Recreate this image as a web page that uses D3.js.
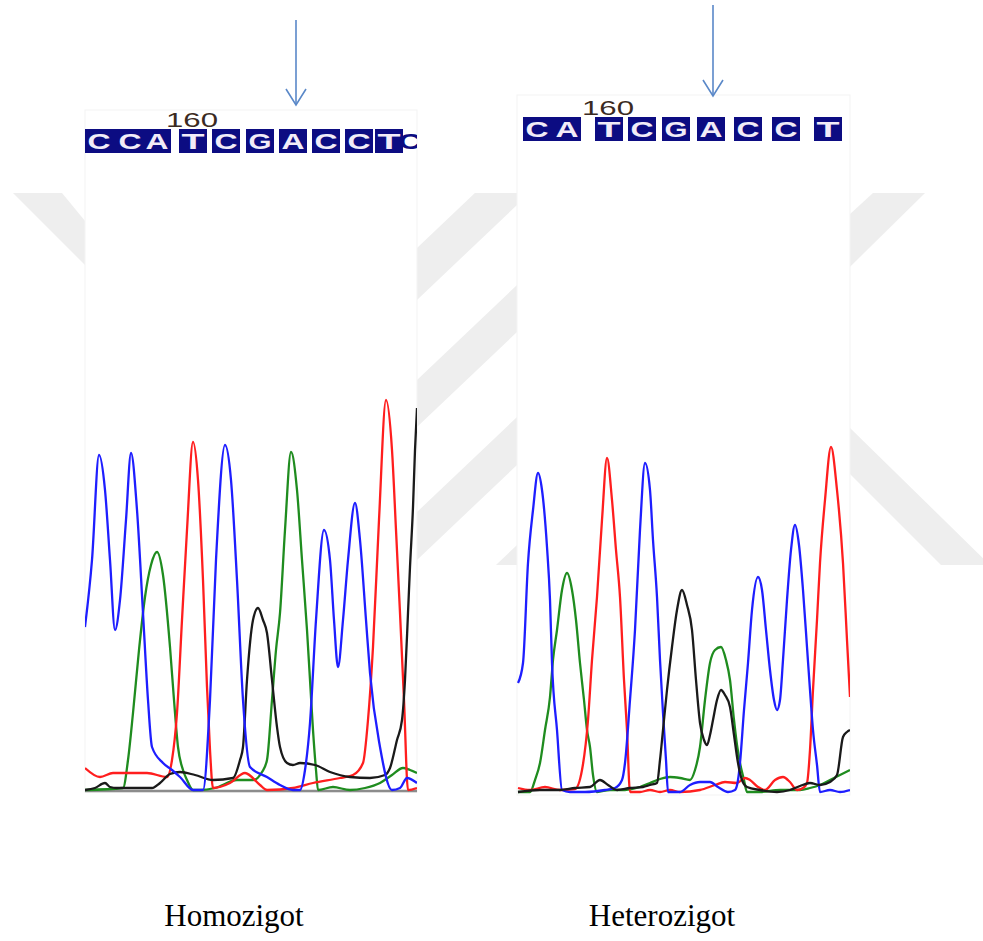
<!DOCTYPE html>
<html>
<meta charset="utf-8">
<head>
<script src="https://d3js.org/d3.v7.min.js"></script>
<style>
  body { margin: 0; background: #fff; }
</style>
</head>
<body>
<div id="chart"></div>
<script>

// ---- data: trace points as [scan position, signal intensity] ----
var homoBlue = [[0,163],[7,230],[14,335],[20,300],[25,230],[30,160],[35,190],[41,270],[46,337],[52,280],[58,177],[63,90],[67,43],[78,27],[87,20],[95,13],[108,0],[118,0],[125,90],[131,230],[140,345],[146,310],[152,210],[158,90],[165,23],[182,13],[195,5],[208,0],[215,0],[220,20],[225,67],[231,170],[239,260],[245,230],[249,170],[253,123],[258,170],[263,230],[270,287],[275,250],[281,170],[285,117],[295,43],[307,0],[315,2],[322,12],[332,7]];
var homoRed = [[0,22],[15,13],[28,17],[62,17],[82,13],[87,30],[92,77],[97,170],[102,260],[108,348],[113,310],[118,210],[122,103],[125,40],[128,2],[145,7],[160,17],[175,5],[182,0],[208,2],[228,7],[255,12],[268,15],[278,27],[283,70],[288,143],[294,270],[301,390],[307,340],[311,260],[315,177],[319,90],[323,0],[332,2]];
var homoGreen = [[0,0],[38,2],[43,30],[48,77],[54,140],[60,193],[66,225],[72,238],[78,215],[85,143],[89,90],[93,43],[98,20],[102,10],[108,0],[115,0],[130,2],[152,10],[168,10],[177,18],[182,30],[187,90],[191,140],[195,177],[200,260],[206,338],[212,300],[217,230],[222,160],[225,110],[228,60],[231,20],[233,0],[248,3],[265,0],[280,2],[295,7],[307,15],[318,22],[325,20],[332,17]];
var homoBlack = [[0,0],[10,2],[20,7],[25,3],[32,2],[67,2],[75,7],[85,16],[95,18],[110,15],[128,10],[148,12],[155,30],[158,43],[162,110],[168,170],[173,182],[178,170],[182,157],[187,110],[192,63],[195,43],[202,27],[208,25],[215,27],[230,25],[245,18],[265,13],[285,12],[300,15],[305,22],[312,50],[317,70],[320,110],[323,177],[325,223],[328,283],[330,340],[332,382]];

var hetBlue = [[1,109],[6,129],[11,229],[16,282],[21,319],[25,302],[30,245],[33,192],[35,129],[40,62],[45,2],[53,0],[68,0],[88,2],[98,4],[105,12],[108,29],[113,92],[118,162],[123,262],[128,329],[133,302],[136,252],[140,195],[143,132],[146,79],[149,32],[151,0],[163,0],[173,7],[183,10],[193,10],[201,5],[211,0],[218,2],[221,12],[223,29],[227,82],[231,129],[235,182],[241,215],[245,202],[249,162],[253,122],[257,92],[260,82],[263,92],[266,132],[270,192],[274,242],[278,267],[282,247],[286,202],[290,145],[293,102],[296,62],[300,27],[303,0],[313,2],[323,0],[333,2]];
var hetRed = [[1,4],[13,2],[28,5],[43,2],[58,3],[65,22],[71,72],[75,132],[80,195],[85,272],[90,334],[95,292],[99,242],[103,195],[107,112],[110,62],[113,0],[123,0],[133,2],[143,0],[153,2],[163,0],[183,2],[198,7],[208,10],[220,9],[228,14],[233,12],[241,5],[248,2],[258,12],[266,15],[273,10],[280,2],[286,4],[290,9],[293,42],[296,102],[300,172],[303,229],[308,292],[314,345],[320,302],[326,229],[330,152],[333,95]];
var hetGreen = [[1,0],[13,0],[18,12],[23,29],[28,62],[33,95],[36,132],[40,162],[45,202],[50,219],[55,202],[59,172],[63,129],[67,92],[70,62],[73,45],[76,17],[80,0],[93,2],[108,2],[123,5],[133,9],[143,13],[153,15],[163,14],[173,12],[178,22],[183,45],[188,92],[193,129],[198,142],[204,145],[209,132],[213,112],[217,72],[220,47],[223,29],[227,12],[230,0],[243,0],[263,2],[283,2],[293,4],[303,7],[313,12],[323,17],[333,22]];
var hetBlack = [[1,0],[23,2],[43,2],[58,4],[73,5],[83,12],[91,7],[100,2],[113,4],[126,5],[133,7],[140,9],[143,32],[146,62],[150,102],[155,145],[160,182],[165,202],[170,187],[175,162],[179,112],[183,69],[187,52],[190,47],[193,57],[196,72],[200,92],[204,102],[208,97],[213,85],[217,57],[221,29],[225,12],[230,5],[243,2],[260,0],[273,2],[283,6],[293,9],[303,7],[313,10],[320,17],[326,55],[330,60],[333,62]];

// base calls, their positions in the call strip and the box group of each letter (-1 = no box)
var homoBases = ["C","C","A","T","C","G","A","C","C","T","C"];
var homoBasePos = [14,45,72,108,141,175,208,241,274,304,325];
var homoBoxGroup = [0,0,0,1,2,3,4,5,6,7,-1];
var hetBases = ["C","A","T","C","G","A","C","C","T"];
var hetBasePos = [20,50,92,125,159,194,231,269,311];
var hetBoxGroup = [0,0,1,2,3,4,5,6,7];

var tickLabel = "160";
var homoTickIndex = 3;        // the T under "160"
var hetTickIndex = 2;
var homoSnpIndex = 6;         // base marked by the arrow
var hetSnpIndex = 5;
var panelTitles = ["Homozigot", "Heterozigot"];

var traceColors = {blue: "#1e1eff", red: "#ff1e1e", green: "#1f8c1f", black: "#1a1a1a"};

var svg = d3.select("#chart")
  .append("svg")
    .attr("width", 983)
    .attr("height", 941);

// faint watermark stripes behind the panels
var wm = svg.append("g").attr("fill", "#eeeeee");
var defs = svg.append("defs");
defs.append("clipPath").attr("id", "midclip")
  .append("rect").attr("x", 417).attr("y", 193).attr("width", 100).attr("height", 372);
defs.append("clipPath").attr("id", "wmclip")
  .append("rect").attr("x", 0).attr("y", 193).attr("width", 983).attr("height", 372);

var mid = wm.append("g").attr("clip-path", "url(#midclip)");
[[248,300],[380,427],[512,560],[640,695]].forEach(function(s) {
  var k = 0.95;
  mid.append("polygon").attr("points", [
    [417, s[0]], [517, s[0] - 100 * k], [517, s[1] - 100 * k], [417, s[1]]
  ].join(" "));
});
var outer = wm.append("g").attr("clip-path", "url(#wmclip)");
outer.append("polygon").attr("points", "13,193 62,193 150,300 150,330");
outer.append("polygon").attr("points", "873,193 925,193 800,316 800,260");
outer.append("polygon").attr("points", "800,379 990,565 941,565 800,424");

function drawPanel(cfg) {
  var g = svg.append("g");

  g.append("rect")
    .attr("x", cfg.left).attr("y", cfg.top)
    .attr("width", cfg.right - cfg.left).attr("height", cfg.bottom - cfg.top)
    .attr("fill", "#fff")
    .attr("stroke", "#f3f3f3");

  var x = d3.scaleLinear().domain([0, cfg.right - cfg.left]).range([cfg.left, cfg.right]);
  var y = d3.scaleLinear().domain([0, 400]).range([cfg.base, cfg.base - 400]);

  var clipId = "clip" + cfg.left;
  defs.append("clipPath").attr("id", clipId)
    .append("rect").attr("x", cfg.left).attr("y", cfg.top)
    .attr("width", cfg.right - cfg.left).attr("height", cfg.bottom - cfg.top + 2);

  if (cfg.baseline) {
    g.append("line")
      .attr("x1", cfg.left).attr("x2", cfg.right)
      .attr("y1", cfg.base + 1).attr("y2", cfg.base + 1)
      .attr("stroke", "#8c8c8c").attr("stroke-width", 2.5);
  }

  var line = d3.line()
    .x(function(d) { return x(d[0]); })
    .y(function(d) { return y(d[1]); })
    .curve(d3.curveMonotoneX);

  var tg = g.append("g").attr("clip-path", "url(#" + clipId + ")");
  cfg.traces.forEach(function(t) {
    tg.append("path")
      .attr("d", line(t.data))
      .attr("fill", "none")
      .attr("stroke", traceColors[t.color])
      .attr("stroke-width", 2.3)
      .attr("stroke-linejoin", "round");
  });

  // base call strip
  var sg = g.append("g").attr("clip-path", "url(#" + clipId + ")");
  var groups = d3.groups(cfg.bases.map(function(b, i) {
      return {b: b, p: cfg.basePos[i], grp: cfg.groups[i]};
    }).filter(function(d) { return d.grp >= 0; }), function(d) { return d.grp; });
  groups.forEach(function(gr) {
    var items = gr[1];
    var x0 = x(items[0].p) - 14, x1 = x(items[items.length - 1].p) + 14;
    sg.append("rect")
      .attr("x", x0).attr("y", cfg.stripY)
      .attr("width", x1 - x0).attr("height", 24)
      .attr("fill", "#0c0c82");
  });
  cfg.bases.forEach(function(b, i) {
    sg.append("text")
      .attr("x", x(cfg.basePos[i]))
      .attr("y", cfg.stripY + 20)
      .attr("text-anchor", "middle")
      .attr("font-family", "Liberation Sans, Arial, sans-serif")
      .attr("font-weight", "bold")
      .attr("font-size", 22)
      .attr("textLength", 23)
      .attr("lengthAdjust", "spacingAndGlyphs")
      .attr("fill", cfg.groups[i] >= 0 ? "#f2ecf8" : "#0c0c82")
      .text(b);
  });

  g.append("text")
    .attr("x", x(cfg.basePos[cfg.tick]) - 1)
    .attr("y", cfg.stripY - 2)
    .attr("text-anchor", "middle")
    .attr("font-family", "Liberation Sans, Arial, sans-serif")
    .attr("font-size", 20)
    .attr("textLength", 52)
    .attr("lengthAdjust", "spacingAndGlyphs")
    .attr("fill", "#3b2a22")
    .text(tickLabel);

  // arrow marking the SNP
  var ax = x(cfg.basePos[cfg.snp]) + cfg.arrowDx;
  g.append("line")
    .attr("x1", ax).attr("x2", ax)
    .attr("y1", cfg.arrowTop).attr("y2", cfg.arrowBottom)
    .attr("stroke", "#5a88c8").attr("stroke-width", 1.6);
  g.append("path")
    .attr("d", "M" + (ax - 10) + "," + (cfg.arrowBottom - 16) + "L" + ax + "," + cfg.arrowBottom + "L" + (ax + 10) + "," + (cfg.arrowBottom - 16))
    .attr("fill", "none")
    .attr("stroke", "#5a88c8").attr("stroke-width", 1.6);

  svg.append("text")
    .attr("x", (cfg.titleX))
    .attr("y", 926)
    .attr("text-anchor", "middle")
    .attr("font-family", "Liberation Serif, Times New Roman, serif")
    .attr("font-size", 31)
    .attr("fill", "#000")
    .text(cfg.title);
}

drawPanel({
  left: 85, right: 417, top: 110, bottom: 792, base: 790, baseline: true,
  stripY: 129,
  traces: [
    {color: "green", data: homoGreen},
    {color: "red", data: homoRed},
    {color: "black", data: homoBlack},
    {color: "blue", data: homoBlue}
  ],
  bases: homoBases, basePos: homoBasePos, groups: homoBoxGroup, tick: homoTickIndex,
  snp: homoSnpIndex, arrowDx: 3, arrowTop: 20, arrowBottom: 105,
  title: panelTitles[0], titleX: 234
});

drawPanel({
  left: 517, right: 850, top: 95, bottom: 795, base: 792, baseline: false,
  stripY: 117,
  traces: [
    {color: "green", data: hetGreen},
    {color: "red", data: hetRed},
    {color: "blue", data: hetBlue},
    {color: "black", data: hetBlack}
  ],
  bases: hetBases, basePos: hetBasePos, groups: hetBoxGroup, tick: hetTickIndex,
  snp: hetSnpIndex, arrowDx: 2, arrowTop: 5, arrowBottom: 96,
  title: panelTitles[1], titleX: 662
});

</script>
</body>
</html>
